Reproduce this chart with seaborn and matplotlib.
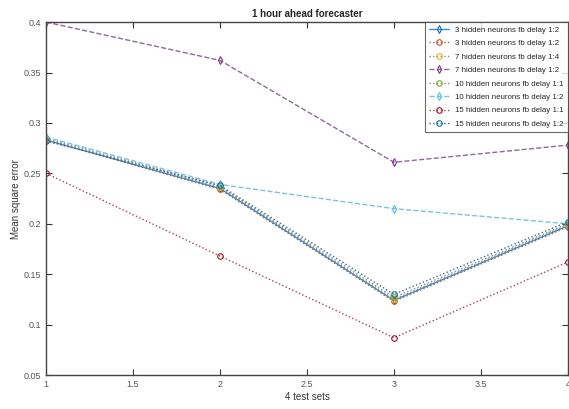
import matplotlib
matplotlib.use("Agg")
import matplotlib.pyplot as plt
import seaborn as sns
import pandas as pd

sns.set_theme(style="white")
plt.rcParams['font.family'] = ['Liberation Sans', 'DejaVu Sans']

test_sets = [1, 2, 3, 4]
labels = [
    "3 hidden neurons fb delay 1:2",
    "3 hidden neurons fb delay 1:2",
    "7 hidden neurons fb delay 1:4",
    "7 hidden neurons fb delay 1:2",
    "10 hidden neurons fb delay 1:1",
    "10 hidden neurons fb delay 1:2",
    "15 hidden neurons fb delay 1:1",
    "15 hidden neurons fb delay 1:2",
]
s1 = [0.283, 0.235, 0.124, 0.198]
s2 = [0.283, 0.234, 0.123, 0.197]
s3 = [0.284, 0.236, 0.125, 0.199]
s4 = [0.400, 0.362, 0.261, 0.278]
s5 = [0.285, 0.237, 0.127, 0.200]
s6 = [0.286, 0.239, 0.215, 0.200]
s7 = [0.250, 0.168, 0.087, 0.162]
s8 = [0.282, 0.238, 0.130, 0.202]
series = [s1, s2, s3, s4, s5, s6, s7, s8]

colors = ["#0072BD", "#D95319", "#EDB120", "#7E2F8E", "#77AC30", "#4DBEEE", "#A2142F", "#1f6f9f"]
styles = ["-", ":", ":", "--", ":", "--", ":", ":"]
markers = ["d", "o", "o", "d", "o", "d", "o", "o"]
line_colors = ["#3a8fc4", "#8a6a7a", "#8a8a8a", "#8a6f90", "#8a8a8a", "#7cc3de", "#9a4a52", "#3c6f8a"]

fig = plt.figure(figsize=(5.69, 4.09), dpi=100)
ax = fig.add_axes([0.081, 0.083, 0.917, 0.863])

for vals, lab, c, lc, ls, m in zip(series, labels, colors, line_colors, styles, markers):
    df = pd.DataFrame({"x": test_sets, "y": vals})
    sns.lineplot(data=df, x="x", y="y", ax=ax, color=lc, linestyle=ls, linewidth=1.0,
                 marker=m, markersize=4, markerfacecolor="none", markeredgecolor=c,
                 markeredgewidth=0.8, label=lab)

ax.set_xlim(1, 4)
ax.set_ylim(0.05, 0.4)
ax.set_xticks([1, 1.5, 2, 2.5, 3, 3.5, 4])
ax.set_xticklabels(["1", "1.5", "2", "2.5", "3", "3.5", "4"])
ax.set_yticks([0.05, 0.1, 0.15, 0.2, 0.25, 0.3, 0.35, 0.4])
ax.set_yticklabels(["0.05", "0.1", "0.15", "0.2", "0.25", "0.3", "0.35", "0.4"])
ax.tick_params(direction="in", length=4, width=0.8, labelsize=6.5, colors="#333333",
               top=True, right=True, bottom=True, left=True, labelcolor="#555555")
for sp in ax.spines.values():
    sp.set_color("#444444")
    sp.set_linewidth(1.0)

ax.set_title("1 hour ahead forecaster", fontsize=7, fontweight="bold", pad=4)
ax.set_xlabel("4 test sets", fontsize=7, labelpad=2, color="#333333")
ax.set_ylabel("Mean square error", fontsize=7, labelpad=2, color="#333333")

leg = ax.legend(loc="upper right", fontsize=5.7, frameon=True, borderaxespad=0.0,
                handlelength=2.5, labelspacing=0.75, fancybox=False, borderpad=0.5)
leg.get_frame().set_edgecolor("#444444")
leg.get_frame().set_linewidth(0.8)

fig.savefig("out.png", dpi=100)
